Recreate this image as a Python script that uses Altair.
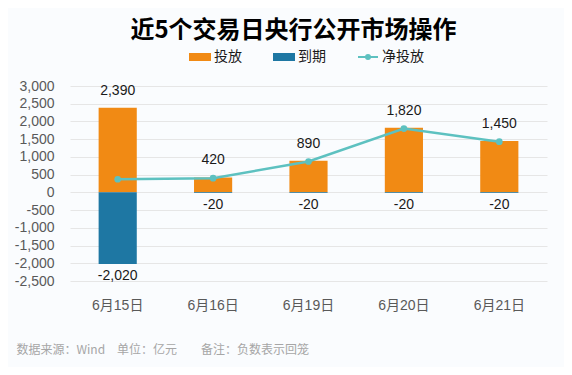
import altair as alt
import pandas as pd

dates = ['6月15日', '6月16日', '6月19日', '6月20日', '6月21日']
injection = [2390, 420, 890, 1820, 1450]
maturity = [-2020, -20, -20, -20, -20]
net = [370, 400, 870, 1800, 1430]
series_names = ['投放', '到期', '净投放']
series_colors = ['#F18A14', '#1E77A3', '#5DC1C0']
y_ticks = list(range(-2500, 3001, 500))
title_text = '近5个交易日央行公开市场操作'
footnote = '数据来源：Wind\u2002\u2002单位：亿元\u3000\u3000备注：负数表示回笼'

df = pd.DataFrame({'date': dates, '投放': injection, '到期': maturity, '净投放': net})

FONT = 'Liberation Sans, Noto Sans CJK SC, sans-serif'
CJK = 'Noto Sans CJK SC, sans-serif'
RECT = 'M-1,-0.3H1V0.3H-1Z'
LINEDOT = 'M-1,0H1M0.2,0A0.2,0.2,0,1,1,-0.2,0A0.2,0.2,0,1,1,0.2,0Z'
HYPHEN = "replace(format(%s, ','), '\u2212', '-')"

xenc = alt.X('date:N', sort=dates,
             scale=alt.Scale(paddingInner=0.6, paddingOuter=0.3),
             axis=alt.Axis(title=footnote, labelAngle=0, labelFontSize=14,
                           labelColor='#595959', labelFont=FONT, labelPadding=17,
                           ticks=False, domain=False,
                           titleFont=CJK, titleFontSize=12, titleFontWeight='normal',
                           titleColor='#A6A6A6', titleAnchor='start', titleAlign='left',
                           titleX=-54, titleY=68, titleBaseline='middle'))

yscale = alt.Scale(domain=[-2500, 3000], nice=False)
yaxis = alt.Axis(values=y_ticks, format=',d', title=None, ticks=False, domain=False,
                 labelExpr=HYPHEN % 'datum.value',
                 labelFontSize=14, labelColor='#595959', labelFont=FONT,
                 labelPadding=16, gridColor='#E6E6E6', gridWidth=1)


def yenc(field):
    return alt.Y(field, type='quantitative', scale=yscale, axis=yaxis)


color_scale = alt.Scale(domain=series_names, range=series_colors)
shape_scale = alt.Scale(domain=series_names, range=[RECT, RECT, LINEDOT])

base = alt.Chart(df).transform_calculate(
    top_txt=HYPHEN % 'datum["投放"]',
    bot_txt=HYPHEN % 'datum["到期"]',
)

bars = base.transform_fold(['投放', '到期'], as_=['series', 'value']).mark_bar().encode(
    x=xenc,
    y=yenc('value'),
    fill=alt.Fill('series:N', scale=color_scale, title=None),
)

legend_layer = base.transform_fold(['投放', '到期', '净投放'], as_=['series', 'value']).transform_filter(
    'false').mark_point(filled=True, strokeWidth=2, opacity=1).encode(
    x=xenc,
    y=yenc('value'),
    fill=alt.Fill('series:N', scale=color_scale, title=None),
    stroke=alt.Stroke('series:N', scale=color_scale, title=None),
    shape=alt.Shape('series:N', scale=shape_scale, title=None),
)

top_labels = base.mark_text(baseline='bottom', dy=-10, fontSize=14, font=FONT, color='#1A1A1A').encode(
    x=xenc,
    y=yenc('投放'),
    text='top_txt:N',
)

bottom_labels = base.mark_text(baseline='top', dy=5, fontSize=14, font=FONT, color='#1A1A1A').encode(
    x=xenc,
    y=yenc('到期'),
    text='bot_txt:N',
)

line = base.mark_line(color='#5DC1C0', strokeWidth=2.5,
                      point=alt.OverlayMarkDef(filled=True, size=45, color='#5DC1C0', opacity=1)).encode(
    x=xenc,
    y=yenc('净投放'),
)

chart = alt.layer(bars, line, top_labels, bottom_labels, legend_layer).properties(
    width=477, height=195,
    title=alt.TitleParams(title_text, fontSize=24, fontWeight='bold', font=CJK,
                          color='#000000', anchor='middle', frame='group', dx=-15,
                          offset=3),
    autosize=alt.AutoSizeParams(type='none'),
    padding={'left': 62, 'top': 78, 'right': 17, 'bottom': 86},
    background='#FAFCFE',
).configure_view(stroke=None).configure_legend(
    orient='none', legendX=119, legendY=-40, direction='horizontal',
    symbolSize=400, labelFontSize=14, labelFont=CJK, labelColor='#1A1A1A',
    labelOffset=3, columnPadding=28, symbolStrokeWidth=2, symbolOpacity=1,
)

chart.save('out.html', embed_options={'renderer': 'svg', 'actions': False})
